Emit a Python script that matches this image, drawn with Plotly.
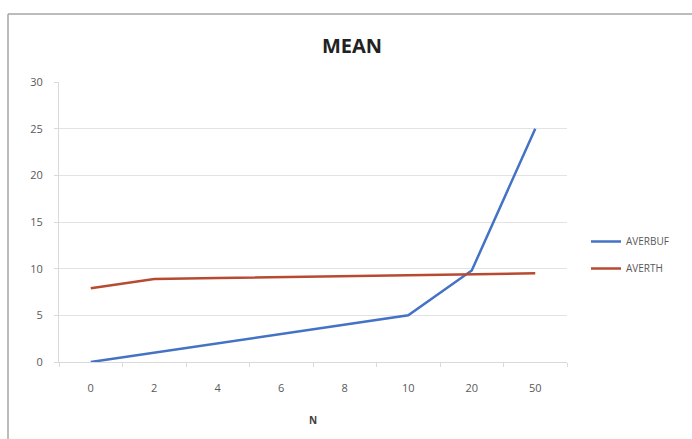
import plotly.graph_objects as go

categories = ["0", "2", "4", "6", "8", "10", "20", "50"]
averbuf = [0, 1, 2, 3, 4, 5, 9.8, 25]
averth = [7.9, 8.9, 9.0, 9.1, 9.2, 9.3, 9.4, 9.5]

fig = go.Figure()
fig.add_trace(go.Scatter(x=categories, y=averbuf, mode="lines", name="AVERBUF",
                         legendgroup="a",
                         line=dict(color="#4472C4", width=2.5)))
fig.add_trace(go.Scatter(x=categories, y=averth, mode="lines", name="AVERTH",
                         legendgroup="b",
                         line=dict(color="#B84A32", width=2.5)))

W, H = 692, 439
l, r, t, b = 59, 125, 82, 77
pw, ph = W - l - r, H - t - b

def px_x(x):
    return (x - l) / pw

def px_y(y):
    return (H - b - y) / ph

fig.update_layout(
    width=W, height=H,
    margin=dict(l=l, r=r, t=t, b=b),
    paper_bgcolor="white", plot_bgcolor="white",
    font=dict(family="Open Sans, Lato, sans-serif", color="#595959", size=11),
    title=dict(text="<b>MEAN</b>", x=352 / W, xref="container", xanchor="center",
               y=1 - 46 / H, yanchor="middle",
               font=dict(size=20, color="#222222", family="Open Sans, sans-serif")),
    showlegend=True,
    legend=dict(x=px_x(586), y=px_y(227), xanchor="left", yanchor="top",
                font=dict(size=10, color="#595959"), bgcolor="rgba(0,0,0,0)",
                tracegroupgap=8),
    xaxis=dict(type="category", range=[-0.5, 7.5], showgrid=False,
               showline=True, linecolor="#D9D9D9", linewidth=1,
               ticks="outside", tickson="boundaries", ticklen=4, tickcolor="#D9D9D9",
               ticklabelstandoff=16,
               tickfont=dict(size=11, color="#595959"),
               title=dict(text="<b>N</b>", font=dict(size=10, color="#404040"), standoff=22)),
    yaxis=dict(range=[0, 30], dtick=5, showgrid=True, gridcolor="#E3E3E3", gridwidth=1,
               zeroline=False, showline=True, linecolor="#D9D9D9", linewidth=1,
               ticks="outside", ticklen=4, tickcolor="#D9D9D9",
               ticklabelstandoff=9,
               tickfont=dict(size=11, color="#595959")),
    shapes=[
        dict(type="line", xref="paper", yref="paper",
             x0=px_x(8), x1=px_x(8), y0=px_y(14), y1=px_y(H + 5),
             line=dict(color="#A6A6A6", width=1.5)),
        dict(type="line", xref="paper", yref="paper",
             x0=px_x(8), x1=px_x(W + 5), y0=px_y(14), y1=px_y(14),
             line=dict(color="#A6A6A6", width=1.5)),
    ],
)

fig.write_html("out.html")
